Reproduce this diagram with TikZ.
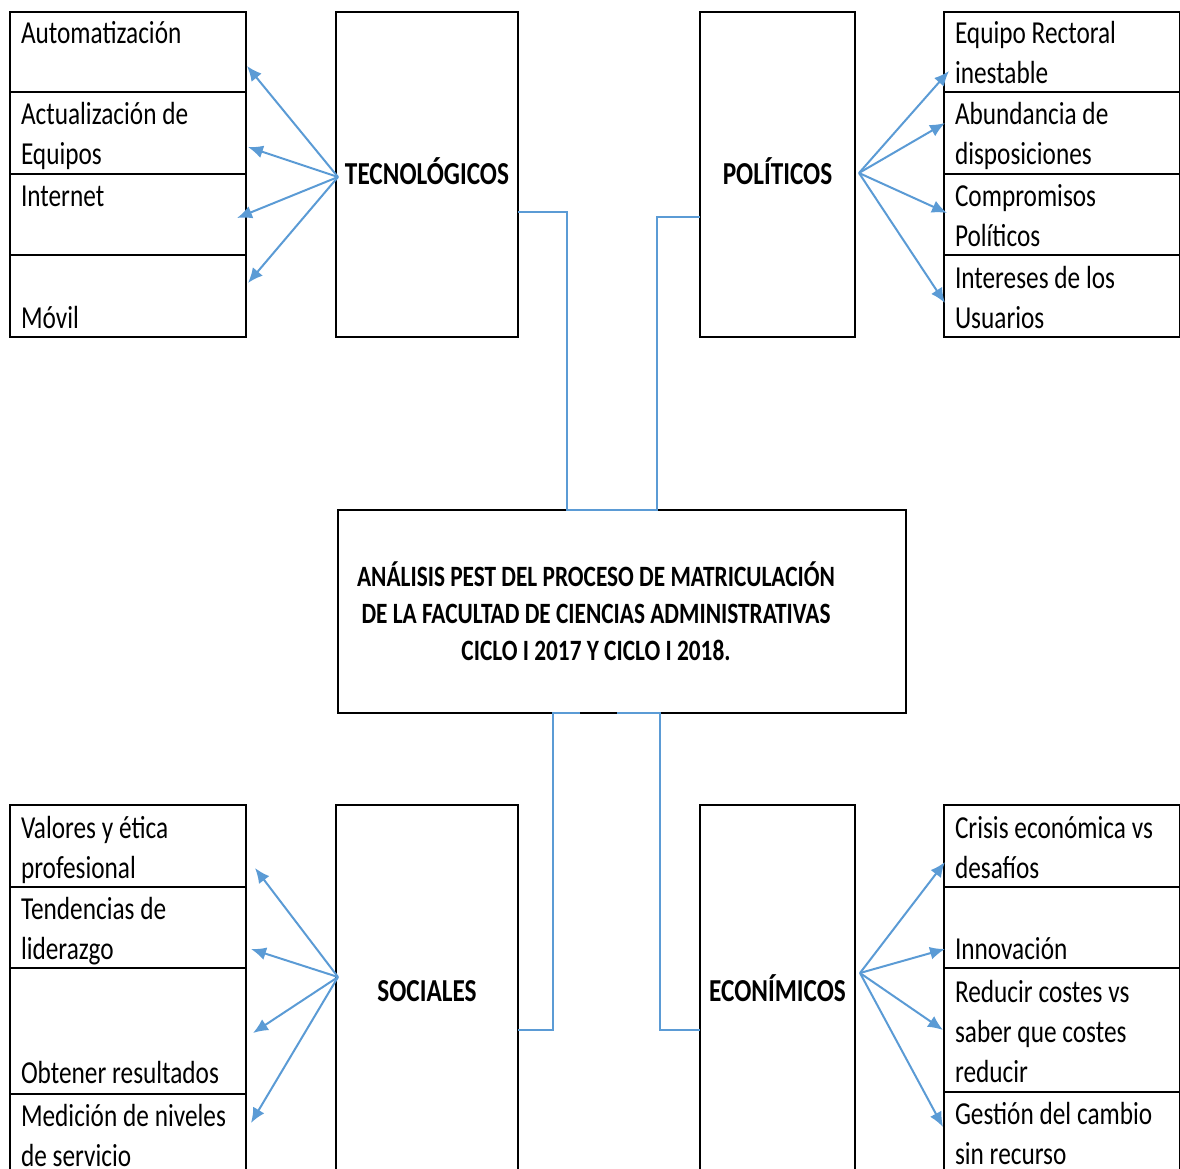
\documentclass[tikz,border=0pt]{standalone}
\usepackage{fontspec}
\setmainfont{Carlito}[FakeStretch=0.79]
\usetikzlibrary{arrows.meta,positioning}
\definecolor{linkblue}{RGB}{91,155,213}

\begin{document}
\begin{tikzpicture}[x=1pt,y=-1pt,>={Latex[length=15pt,width=13pt]},
  item/.style={draw,line width=1.6pt,anchor=north west,outer sep=0pt,text width=214pt,inner xsep=11pt,inner ysep=0pt,align=left,font=\fontsize{32}{40}\selectfont,
    execute at begin node={\spaceskip=5.8pt plus 1pt\relax\hyphenpenalty=10000\rule{0pt}{32pt}},
    execute at end node={\rule[-8pt]{0pt}{8pt}}},
  factor/.style={draw,line width=1.6pt,anchor=north west,outer sep=0pt,inner sep=0pt,text height=21pt,text depth=0pt,font=\bfseries\fontsize{32}{40}\selectfont},
  link/.style={draw=linkblue,line width=2pt},
  ray/.style={link,->}]
  \useasboundingbox (0,0) rectangle (1180,1169);

  % top left: tecnologicos
  \node[item,minimum height=80pt] (auto) at (10,12) {Automatización\\\mbox{}};
  \node[item,minimum height=82pt,below=0pt of auto] (act) {Actualización de\\Equipos};
  \node[item,minimum height=81pt,below=0pt of act] (int) {Internet\\\mbox{}};
  \node[item,minimum height=82pt,below=0pt of int] (mov) {\mbox{}\\Móvil};
  \node[factor,minimum width=182pt,minimum height=325pt] (tec) at (336,12) {TECNOLÓGICOS};

  % top right: politicos
  \node[factor,minimum width=155pt,minimum height=325pt] (pol) at (700,12) {POLÍTICOS};
  \node[item,minimum height=80pt] (equ) at (944,12) {Equipo Rectoral\\inestable};
  \node[item,minimum height=82pt,below=0pt of equ] (abu) {Abundancia de\\disposiciones};
  \node[item,minimum height=81pt,below=0pt of abu] (com) {Compromisos\\Políticos};
  \node[item,minimum height=82pt,below=0pt of com] (inte) {Intereses de los\\Usuarios};

  % centre
  \node[draw,line width=1.6pt,anchor=north west,outer sep=0pt,inner sep=0pt,minimum width=568pt,minimum height=203pt] (pest) at (338,510) {};
  \node[align=center,font=\bfseries\fontsize{29.5}{37}\selectfont] (title) at ([xshift=-26pt,yshift=0pt]pest.center) {ANÁLISIS PEST DEL PROCESO DE MATRICULACIÓN\\DE LA FACULTAD DE CIENCIAS ADMINISTRATIVAS\\CICLO I 2017 Y CICLO I 2018.};

  % bottom left: sociales
  \node[item,minimum height=82pt] (val) at (10,805) {Valores y ética\\profesional};
  \node[item,minimum height=81pt,below=0pt of val] (ten) {Tendencias de\\liderazgo};
  \node[item,minimum height=126pt,below=0pt of ten] (obt) {\mbox{}\\\mbox{}\\Obtener resultados};
  \node[item,minimum height=81pt,below=0pt of obt] (med) {Medición de niveles\\de servicio};
  \node[factor,minimum width=182pt,minimum height=372pt] (soc) at (336,805) {SOCIALES};

  % bottom right: economicos
  \node[factor,minimum width=155pt,minimum height=372pt] (eco) at (700,805) {ECONÍMICOS};
  \node[item,minimum height=82pt] (cri) at (944,805) {Crisis económica vs\\desafíos};
  \node[item,minimum height=81pt,below=0pt of cri] (inn) {\mbox{}\\Innovación};
  \node[item,minimum height=124pt,below=0pt of inn] (red) {Reducir costes vs\\saber que costes\\reducir};
  \node[item,minimum height=81pt,below=0pt of red] (ges) {Gestión del cambio\\sin recurso};

  % links to the centre
  \draw[link] ([yshift=-37.5pt]tec.east) -| ([xshift=-55pt]pest.north) -- ([xshift=-11pt]pest.north);
  \draw[link] ([yshift=-42.5pt]pol.west) -| ([xshift=35pt]pest.north) -- ([xshift=-11pt]pest.north);
  \draw[link] ([xshift=-42pt]pest.south) -- ([xshift=-69pt]pest.south) |- ([yshift=-39pt]soc.east);
  \draw[link] ([xshift=-5pt]pest.south) -- ([xshift=38pt]pest.south) |- ([yshift=-39pt]eco.west);

  % rays
  \draw[ray] ([xshift=2pt,yshift=-2.5pt]tec.west) -- ([xshift=1pt,yshift=-14pt]auto.east);
  \draw[ray] ([xshift=2pt,yshift=-2.5pt]tec.west) -- ([xshift=2pt,yshift=-14pt]act.east);
  \draw[ray] ([xshift=2pt,yshift=-2.5pt]tec.west) -- ([xshift=-9pt,yshift=-3.5pt]int.east);
  \draw[ray] ([xshift=2pt,yshift=-2.5pt]tec.west) -- ([xshift=2pt,yshift=13pt]mov.east);
  \draw[ray] ([xshift=4pt,yshift=1.5pt]pol.east) -- ([xshift=5pt,yshift=-19pt]equ.west);
  \draw[ray] ([xshift=4pt,yshift=1.5pt]pol.east) -- ([xshift=1pt,yshift=10pt]abu.west);
  \draw[ray] ([xshift=4pt,yshift=1.5pt]pol.east) -- ([xshift=3pt,yshift=1.5pt]com.west);
  \draw[ray] ([xshift=4pt,yshift=1.5pt]pol.east) -- ([xshift=1pt,yshift=-7pt]inte.west);
  \draw[ray] ([xshift=2pt,yshift=14pt]soc.west) -- ([xshift=9pt,yshift=-22pt]val.east);
  \draw[ray] ([xshift=2pt,yshift=14pt]soc.west) -- ([xshift=5pt,yshift=-21.5pt]ten.east);
  \draw[ray] ([xshift=2pt,yshift=14pt]soc.west) -- ([xshift=7pt,yshift=-2pt]obt.east);
  \draw[ray] ([xshift=2pt,yshift=14pt]soc.west) -- ([xshift=5pt,yshift=11.5pt]med.east);
  \draw[ray] ([xshift=5pt,yshift=18pt]eco.east) -- ([xshift=1pt,yshift=-16pt]cri.west);
  \draw[ray] ([xshift=5pt,yshift=18pt]eco.east) -- ([xshift=1pt,yshift=-21.5pt]inn.west);
  \draw[ray] ([xshift=5pt,yshift=18pt]eco.east) -- ([xshift=-1pt,yshift=0pt]red.west);
  \draw[ray] ([xshift=5pt,yshift=18pt]eco.east) -- ([xshift=-1pt,yshift=5.5pt]ges.west);
\end{tikzpicture}
\end{document}
